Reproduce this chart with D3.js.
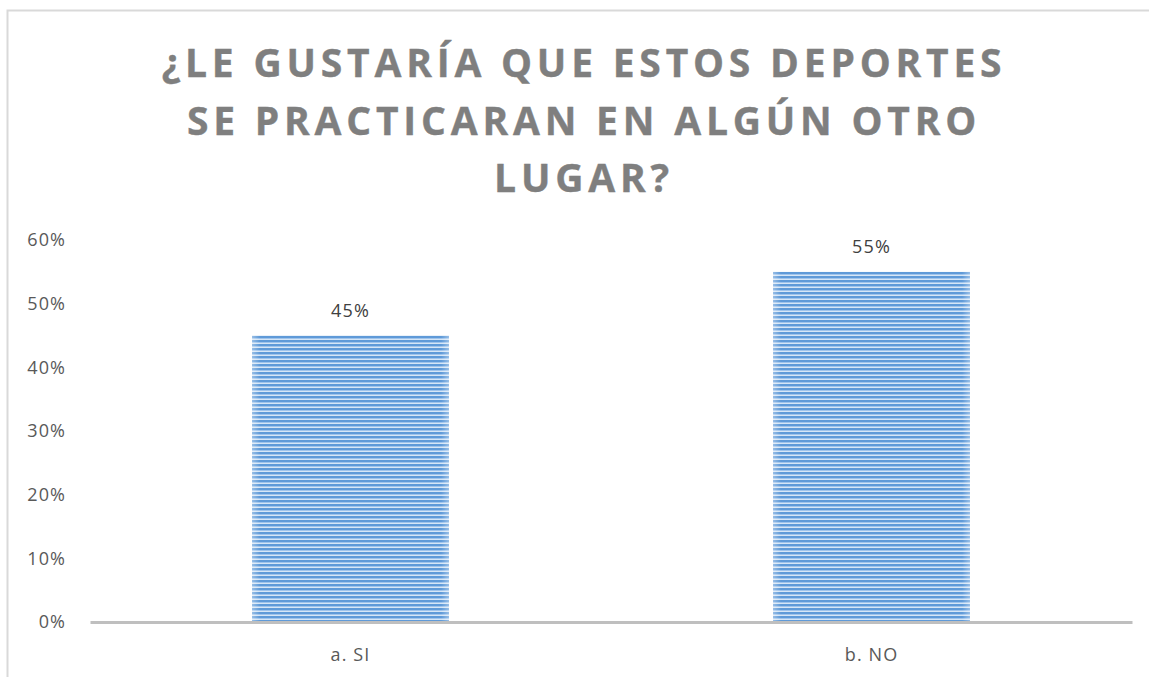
<!DOCTYPE html>
<html>
<head>
<meta charset="utf-8">
<script src="https://cdn.jsdelivr.net/npm/d3@7"></script>
<style>
  body { margin: 0; background: #fff; }
  text { font-family: "Open Sans", "DejaVu Sans", sans-serif; }
</style>
</head>
<body>
<svg id="chart"></svg>
<script>
var categories = ["a. SI", "b. NO"];
var values = [0.45, 0.55];
var yTicks = [0, 0.1, 0.2, 0.3, 0.4, 0.5, 0.6];
var titleLines = ["¿LE GUSTARÍA QUE ESTOS DEPORTES", "SE PRACTICARAN EN ALGÚN OTRO", "LUGAR?"];

var width = 1149,
    height = 677;

var svg = d3.select("#chart")
    .attr("width", width)
    .attr("height", height);

// striped fill like the excel pattern
var defs = svg.append("defs");
var pat = defs.append("pattern")
    .attr("id", "stripes")
    .attr("patternUnits", "userSpaceOnUse")
    .attr("width", 10)
    .attr("height", 4);
pat.append("rect").attr("width", 10).attr("height", 4).attr("fill", "#d6e6f6");
pat.append("rect").attr("y", 0).attr("width", 10).attr("height", 2).attr("fill", "#5f9ad8");
pat.append("rect").attr("y", 2).attr("width", 10).attr("height", 1).attr("fill", "#9fc4ec");

var edge = defs.append("linearGradient")
    .attr("id", "edge");
edge.append("stop").attr("offset", "0%").attr("stop-color", "#fff").attr("stop-opacity", 0.35);
edge.append("stop").attr("offset", "4%").attr("stop-color", "#fff").attr("stop-opacity", 0);
edge.append("stop").attr("offset", "96%").attr("stop-color", "#fff").attr("stop-opacity", 0);
edge.append("stop").attr("offset", "100%").attr("stop-color", "#fff").attr("stop-opacity", 0.35);

// chart frame (cut at right/bottom)
svg.append("path")
    .attr("d", "M7.5," + height + "V10.5H" + width)
    .attr("fill", "none")
    .attr("stroke", "#d9d9d9")
    .attr("stroke-width", 2);

var title = svg.append("text")
    .attr("text-anchor", "middle")
    .attr("fill", "#7f7f7f")
    .attr("stroke", "#7f7f7f")
    .attr("stroke-width", 0.4)
    .style("font-size", "39px")
    .style("font-weight", "bold")
    .style("letter-spacing", "4.8px");

title.selectAll("tspan")
    .data(titleLines)
  .enter().append("tspan")
    .attr("x", 584)
    .attr("y", function(d, i) { return 77 + i * 57.5; })
    .text(function(d) { return d; });

var x = d3.scaleBand()
    .domain(categories)
    .range([90, 1132])
    .paddingInner(0.622)
    .paddingOuter(0.311);

var y = d3.scaleLinear()
    .domain([0, 0.6])
    .range([622, 240]);

var fmt = d3.format(".0%");

var gy = svg.append("g")
    .attr("transform", "translate(66,0)")
    .call(d3.axisLeft(y).tickValues(yTicks).tickFormat(fmt).tickSize(0).tickPadding(0));
gy.select(".domain").remove();
gy.selectAll("text")
    .attr("fill", "#595959")
    .style("font-size", "18px")
    .style("font-family", "'Open Sans', sans-serif")
    .style("letter-spacing", "1.1px");

var bar = svg.selectAll(".bar")
    .data(values)
  .enter().append("g")
    .attr("class", "bar");

bar.append("rect")
    .attr("x", function(d, i) { return x(categories[i]); })
    .attr("y", function(d) { return y(d); })
    .attr("width", x.bandwidth())
    .attr("height", function(d) { return y(0) - y(d); })
    .attr("fill", "url(#stripes)");

bar.append("rect")
    .attr("x", function(d, i) { return x(categories[i]); })
    .attr("y", function(d) { return y(d); })
    .attr("width", x.bandwidth())
    .attr("height", function(d) { return y(0) - y(d); })
    .attr("fill", "url(#edge)");

bar.append("text")
    .attr("x", function(d, i) { return x(categories[i]) + x.bandwidth() / 2; })
    .attr("y", function(d) { return y(d) - 19; })
    .attr("text-anchor", "middle")
    .attr("fill", "#404040")
    .style("font-size", "18px")
    .style("letter-spacing", "1.1px")
    .text(function(d) { return fmt(d); });

var gx = svg.append("g")
    .attr("transform", "translate(0," + y(0) + ")")
    .call(d3.axisBottom(x).tickSize(0).tickPadding(26));
gx.select(".domain")
    .attr("stroke", "#bfbfbf")
    .attr("stroke-width", 3);
gx.selectAll("text")
    .attr("fill", "#595959")
    .style("font-size", "18px")
    .style("font-family", "'Open Sans', sans-serif")
    .style("letter-spacing", "1.1px");
</script>
</body>
</html>
